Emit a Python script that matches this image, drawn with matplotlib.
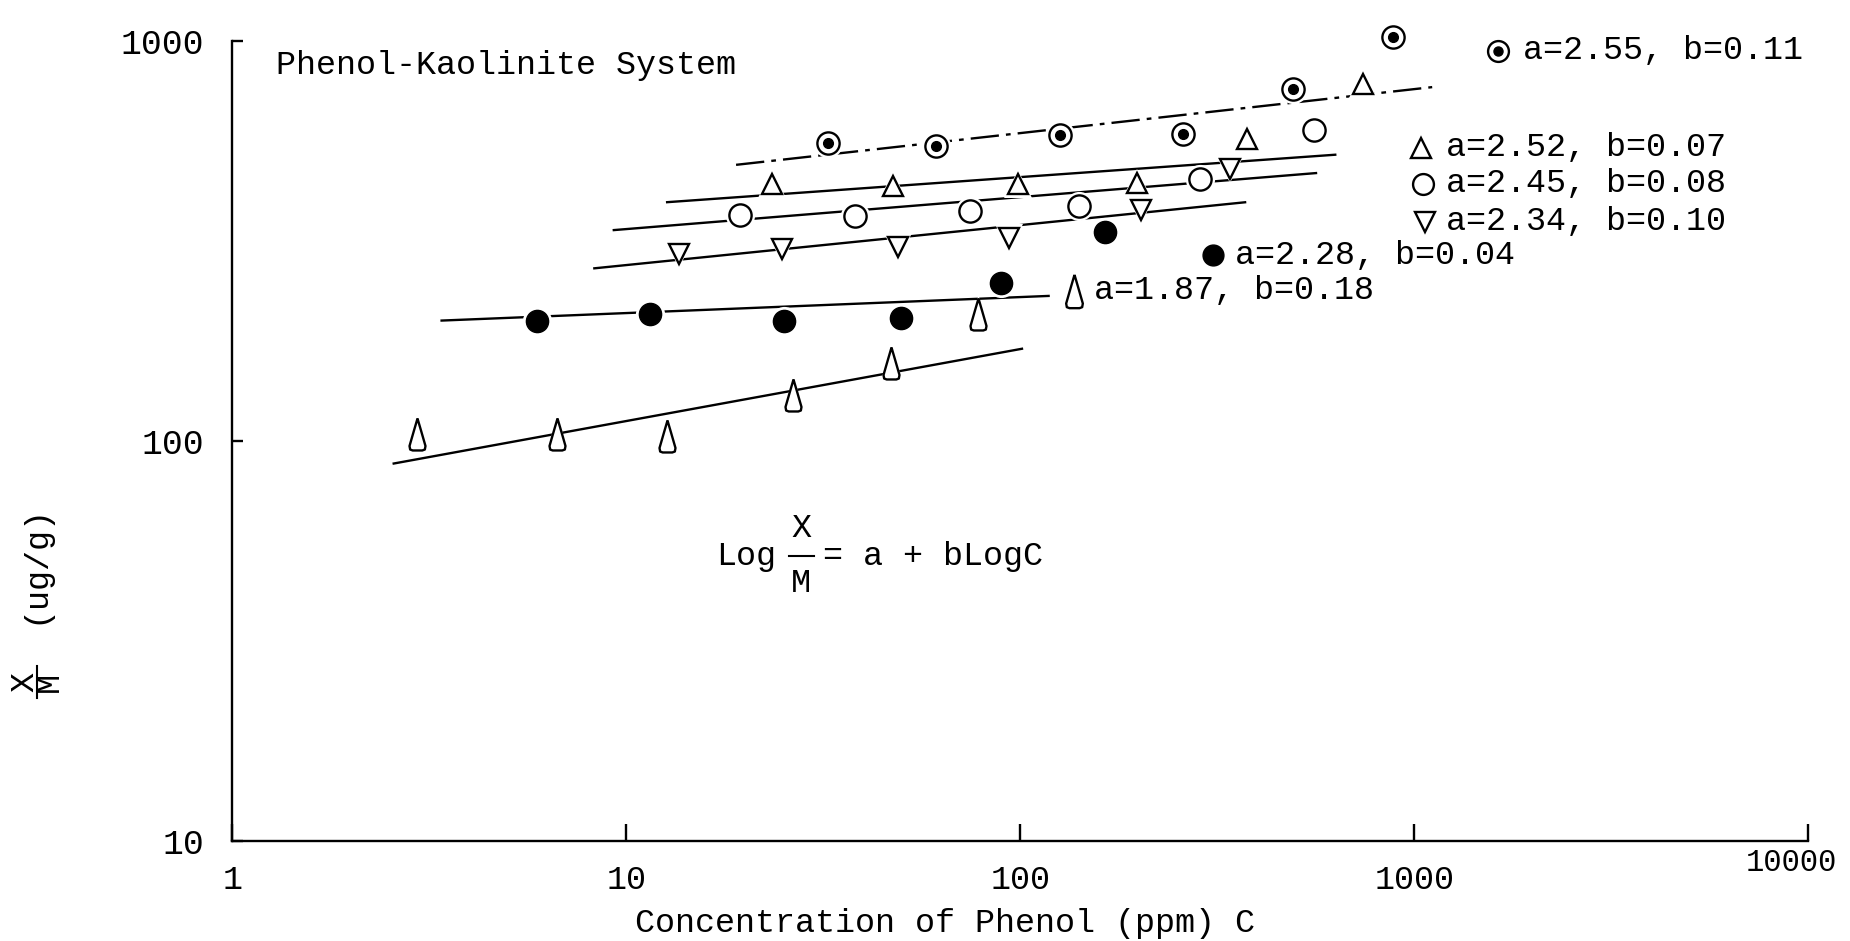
import numpy as np
import matplotlib
matplotlib.use("Agg")
import matplotlib.pyplot as plt
from matplotlib.lines import Line2D
from matplotlib.transforms import ScaledTranslation

plt.rcParams['font.family'] = ['Liberation Mono', 'DejaVu Sans Mono']

# Freundlich parameters, log(X/M) = a + b log C, one pair per run
a_vals = [2.55, 2.52, 2.45, 2.34, 2.28, 1.87]
b_vals = [0.11, 0.07, 0.08, 0.10, 0.04, 0.18]

# measured concentration C (ppm) and uptake X/M (ug/g)
conc_1 = [32.5, 61, 126, 259, 492, 883]
xm_1 = [555, 548, 582, 587, 758, 1022]
conc_2 = [23.5, 47.4, 98.7, 198, 376, 743]
xm_2 = [440, 435, 439, 443, 569, 781]
conc_3 = [19.4, 38.1, 74.5, 141, 285, 555]
xm_3 = [367, 366, 375, 387, 453, 601]
conc_4 = [13.6, 24.8, 49, 93.8, 202, 341]
xm_4 = [294, 303, 306, 321, 378, 478]
conc_5 = [5.94, 11.5, 25.2, 49.7, 89.3, 164]
xm_5 = [200, 208, 200, 203, 249, 334]
conc_6 = [2.94, 6.66, 12.7, 26.5, 47, 78.2]
xm_6 = [104, 104, 103, 130, 157, 208]

# concentration span of each fitted line
line_c_min = [19, 12.7, 9.3, 8.3, 3.4, 2.57]
line_c_max = [1110, 630, 563, 372, 118, 101]

x_ticks = [1, 10, 100, 1000, 10000]
x_tick_labels = ['1', '10', '100', '1000', '10000']
y_ticks = [10, 100, 1000]
y_tick_labels = ['10', '100', '1000']

title_text = 'Phenol-Kaolinite System'
x_label = 'Concentration of Phenol (ppm) C'

FS = 24

# tall, narrow triangle used for the last run
cone = [(0, 1), (0.22, 0.25), (0.5, -0.72), (0.46, -0.94), (0.3, -1),
        (-0.3, -1), (-0.46, -0.94), (-0.5, -0.72), (-0.22, 0.25), (0, 1)]

styles = [
    dict(marker='o', ms=16, mfc='white', mec='black', mew=1.7),
    dict(marker='^', ms=15, mfc='white', mec='black', mew=1.7),
    dict(marker='o', ms=16, mfc='white', mec='black', mew=1.7),
    dict(marker='v', ms=15, mfc='white', mec='black', mew=1.7),
    dict(marker='o', ms=16, mfc='black', mec='black', mew=1.0),
    dict(marker=cone, ms=23, mfc='white', mec='black', mew=1.7),
]
line_styles = [(0, (12, 3, 2, 3)), '-', '-', '-', '-', '-']

series = [(conc_1, xm_1), (conc_2, xm_2), (conc_3, xm_3),
          (conc_4, xm_4), (conc_5, xm_5), (conc_6, xm_6)]

fig = plt.figure(figsize=(18.5, 9.41), dpi=100)
ax = fig.add_axes([0.1255, 0.1063, 0.852, 0.850])
ax.set_xscale('log')
ax.set_yscale('log')
ax.set_xlim(1, 10000)
ax.set_ylim(10, 1000)

for i, (c, xm) in enumerate(series):
    cc = np.logspace(np.log10(line_c_min[i]), np.log10(line_c_max[i]), 50)
    yy = 10 ** (a_vals[i] + b_vals[i] * np.log10(cc))
    ax.plot(cc, yy, color='black', lw=1.7, ls=line_styles[i], zorder=2,
            clip_on=False)
    st = styles[i]
    # white halo leaves a small gap in the line around each symbol
    ax.plot(c, xm, ls='none', marker=st['marker'], ms=st['ms'] + 5,
            mfc='white', mec='white', mew=0, zorder=3, clip_on=False)
    ax.plot(c, xm, ls='none', zorder=4, clip_on=False, **st)
    if i == 0:
        ax.plot(c, xm, ls='none', marker='o', ms=7, mfc='black',
                mec='black', zorder=5, clip_on=False)

# key symbols and parameter labels
key_pos = [(0.803, 0.988, 0.819), (0.7545, 0.867, 0.770),
           (0.7557, 0.8215, 0.770), (0.757, 0.774, 0.770),
           (0.622, 0.7325, 0.636), (0.534, 0.688, 0.547)]
for i, (mx, my, tx) in enumerate(key_pos):
    st = dict(styles[i])
    st['ms'] = 24 if i == 5 else st['ms'] - 1
    ax.plot([mx], [my], ls='none', transform=ax.transAxes, clip_on=False,
            zorder=4, **st)
    if i == 0:
        ax.plot([mx], [my], ls='none', marker='o', ms=6.5, mfc='black',
                mec='black', transform=ax.transAxes, clip_on=False, zorder=5)
    ax.text(tx, my, f'a={a_vals[i]:.2f}, b={b_vals[i]:.2f}',
            transform=ax.transAxes, fontsize=FS, va='center', ha='left')

ax.text(0.0275, 0.970, title_text, transform=ax.transAxes, fontsize=FS,
        va='center', ha='left')

# isotherm equation
ax.text(0.307, 0.356, 'Log', transform=ax.transAxes, fontsize=FS,
        va='center', ha='left')
ax.text(0.361, 0.391, 'X', transform=ax.transAxes, fontsize=FS,
        va='center', ha='center')
ax.text(0.361, 0.322, 'M', transform=ax.transAxes, fontsize=FS,
        va='center', ha='center')
ax.plot([0.353, 0.369], [0.356, 0.356], transform=ax.transAxes,
        color='black', lw=1.5, clip_on=False)
ax.text(0.375, 0.356, '= a + bLogC', transform=ax.transAxes, fontsize=FS,
        va='center', ha='left')

# axes frame
for side in ('top', 'right'):
    ax.spines[side].set_visible(False)
for side in ('left', 'bottom'):
    ax.spines[side].set_linewidth(1.7)

ax.set_xticks(x_ticks)
ax.set_xticklabels(x_tick_labels)
ax.set_yticks(y_ticks)
ax.set_yticklabels(y_tick_labels)
ax.minorticks_off()
ax.tick_params(axis='x', direction='in', length=12, width=1.7,
               labelsize=FS, pad=17)
ax.tick_params(axis='y', direction='in', length=8, width=1.7,
               labelsize=FS + 1, pad=20)

# last x label sits slightly up and in from the axis end
last = ax.get_xticklabels()[-1]
last.set_fontsize(FS - 2)
last.set_transform(last.get_transform() +
                   ScaledTranslation(-12 / 72, 12 / 72, fig.dpi_scale_trans))

ax.set_xlabel(x_label, fontsize=FS)
ax.xaxis.set_label_coords(0.452, -0.084)

# vertical axis title: X over M, then units
fig.text(0.0189, 0.401, '(ug/g)', rotation=90, fontsize=FS,
         ha='center', va='center')
fig.text(0.0200, 0.2752, 'X\nM', rotation=90, fontsize=FS,
         ha='center', va='center', multialignment='center', linespacing=0.75)
fig.add_artist(Line2D([0.0198, 0.0198], [0.258, 0.292],
                      transform=fig.transFigure, color='black', lw=1.5))

fig.savefig('out.png', dpi=100)
